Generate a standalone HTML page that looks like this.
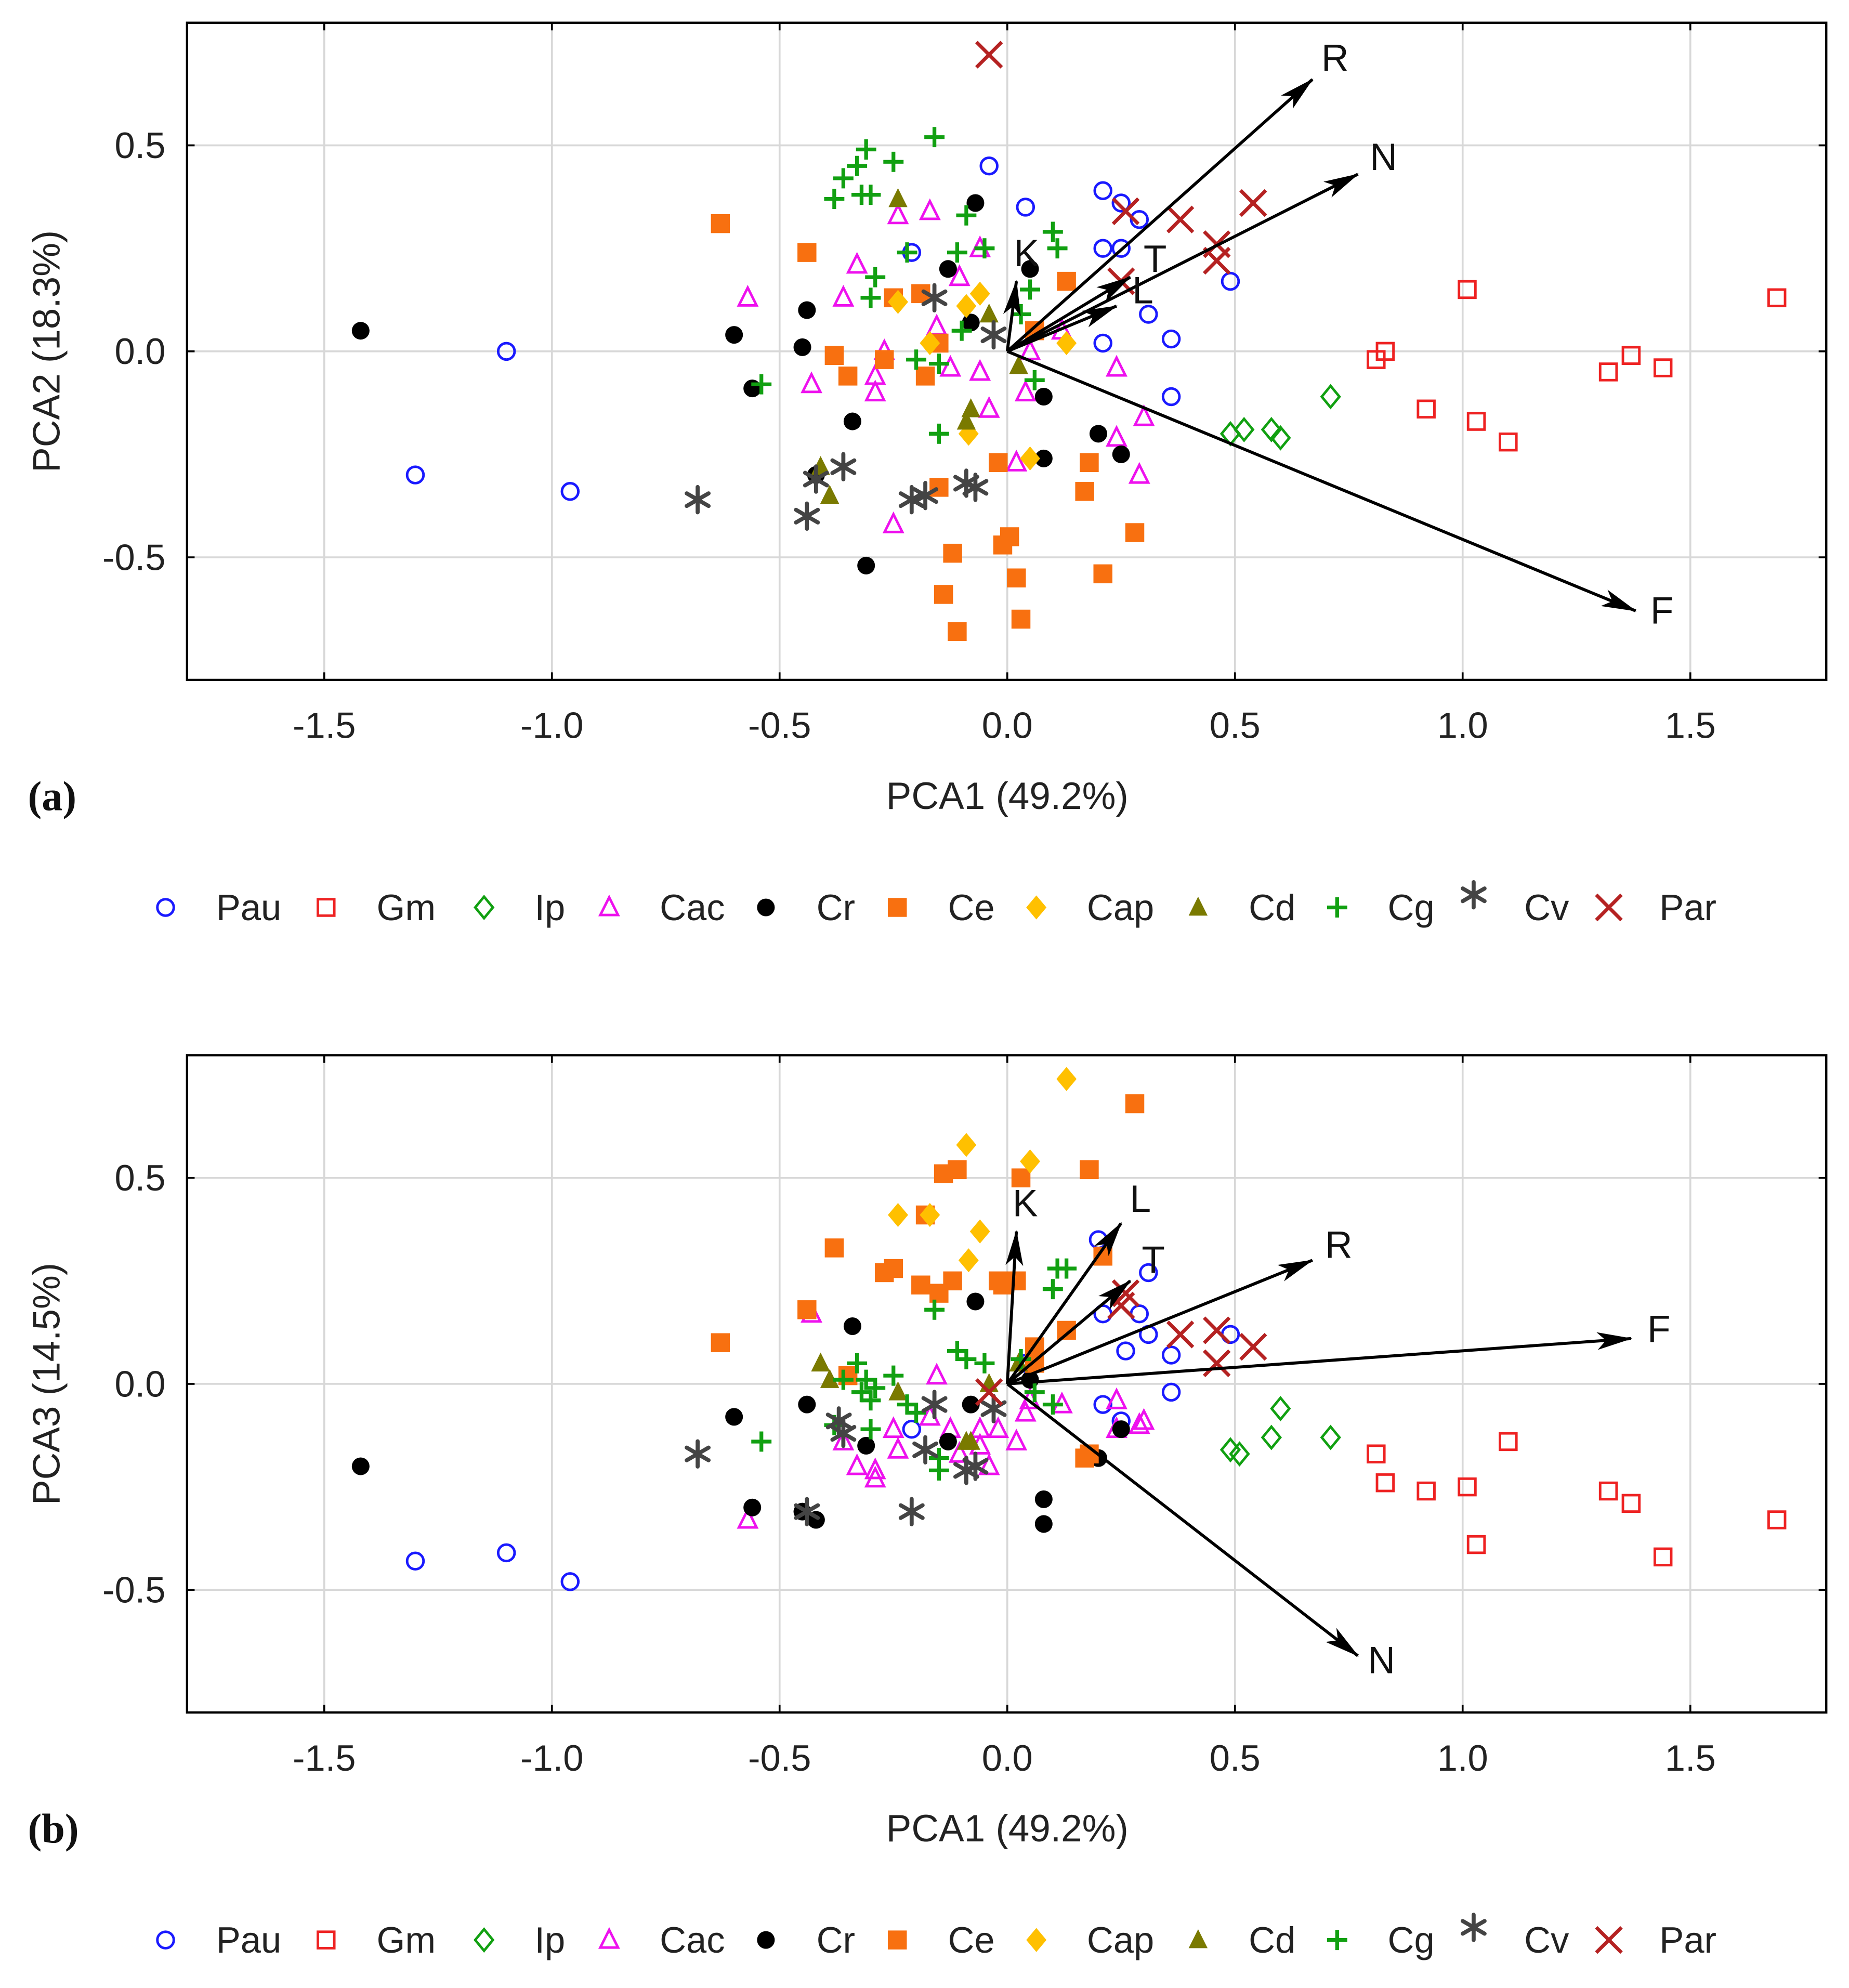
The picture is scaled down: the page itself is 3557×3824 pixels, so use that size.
<!DOCTYPE html>
<html><head><meta charset="utf-8"><style>
html,body{margin:0;padding:0;background:#fff;}
svg{display:block;}
text{font-family:"Liberation Sans","DejaVu Sans",sans-serif;}
</style></head><body>
<svg id="fig" width="3557" height="3824" viewBox="0 0 1463 1573" preserveAspectRatio="none" xmlns="http://www.w3.org/2000/svg">
<defs>
<marker id="ah" viewBox="0 0 28 14" refX="27" refY="7" markerWidth="28" markerHeight="14" markerUnits="userSpaceOnUse" orient="auto">
<path d="M0,0 L28,7 L0,14 L7,7 Z" fill="#000"/>
</marker>
</defs>
</svg>
<script>
const xTicks=[-1.5,-1.0,-0.5,0.0,0.5,1.0,1.5];
const yTicks=[0.5,0.0,-0.5];
const species=["Pau","Gm","Ip","Cac","Cr","Ce","Cap","Cd","Cg","Cv","Par"];
const loadingNames=["R","N","F","K","T","L"];
const loadA=[[0.67,0.66],[0.77,0.43],[1.38,-0.63],[0.02,0.17],[0.27,0.18],[0.24,0.11]];
const loadB=[[0.67,0.30],[0.77,-0.66],[1.37,0.11],[0.02,0.37],[0.27,0.25],[0.25,0.39]];
const pauA=[[-1.10,0.0],[-1.30,-0.30],[-0.96,-0.34],[-0.04,0.45],[0.04,0.35],[0.21,0.39],[0.25,0.36],[0.29,0.32],[0.21,0.25],[0.25,0.25],[-0.21,0.24],[0.31,0.09],[0.21,0.02],[0.36,0.03],[0.36,-0.11],[0.49,0.17]];
const gmA=[[1.69,0.13],[1.01,0.15],[0.83,0.0],[0.81,-0.02],[0.92,-0.14],[1.03,-0.17],[1.10,-0.22],[1.32,-0.05],[1.37,-0.01],[1.44,-0.04]];
const ipA=[[0.71,-0.11],[0.58,-0.19],[0.60,-0.21],[0.52,-0.19],[0.49,-0.20]];
const cacA=[[-0.57,0.13],[-0.43,-0.08],[-0.36,0.13],[-0.33,0.21],[-0.29,-0.06],[-0.29,-0.10],[-0.25,-0.42],[-0.27,0],[-0.24,0.33],[-0.17,0.34],[-0.155,0.06],[-0.125,-0.04],[-0.06,-0.05],[-0.04,-0.14],[-0.06,0.25],[0.02,-0.27],[0.04,-0.10],[0.05,0],[0.12,0.05],[0.24,-0.21],[0.24,-0.04],[0.30,-0.16],[0.29,-0.30],[-0.105,0.18]];
const crA=[[-1.42,0.05],[-0.60,0.04],[-0.56,-0.09],[-0.44,0.10],[-0.45,0.01],[-0.42,-0.30],[-0.34,-0.17],[-0.31,-0.52],[-0.13,0.20],[-0.07,0.36],[-0.08,0.07],[0.05,0.20],[0.08,-0.11],[0.08,-0.26],[0.20,-0.20],[0.25,-0.25]];
const ceA=[[-0.63,0.31],[-0.44,0.24],[-0.38,-0.01],[-0.35,-0.06],[-0.27,-0.02],[-0.25,0.13],[-0.19,0.14],[-0.18,-0.06],[-0.15,0.02],[-0.15,-0.33],[-0.12,-0.49],[-0.14,-0.59],[-0.11,-0.68],[-0.02,-0.27],[-0.01,-0.47],[0.005,-0.45],[0.02,-0.55],[0.03,-0.65],[0.06,0.05],[0.13,0.17],[0.18,-0.27],[0.17,-0.34],[0.21,-0.54],[0.28,-0.44]];
const capA=[[-0.24,0.12],[-0.17,0.02],[-0.09,0.11],[-0.06,0.14],[-0.085,-0.20],[0.05,-0.26],[0.13,0.02]];
const cdA=[[-0.41,-0.28],[-0.39,-0.35],[-0.24,0.37],[-0.09,-0.17],[-0.08,-0.14],[-0.04,0.09],[0.025,-0.035]];
const cgA=[[-0.54,-0.08],[-0.38,0.37],[-0.36,0.42],[-0.33,0.45],[-0.31,0.49],[-0.32,0.38],[-0.30,0.38],[-0.25,0.46],[-0.29,0.18],[-0.30,0.13],[-0.22,0.24],[-0.20,-0.02],[-0.15,-0.03],[-0.16,0.52],[-0.11,0.24],[-0.09,0.33],[-0.15,-0.20],[-0.05,0.25],[0.03,0.09],[0.06,-0.07],[0.10,0.29],[0.11,0.25],[0.05,0.15],[-0.10,0.05]];
const cvA=[[-0.68,-0.36],[-0.44,-0.40],[-0.42,-0.31],[-0.36,-0.28],[-0.16,0.13],[-0.21,-0.36],[-0.18,-0.35],[-0.09,-0.32],[-0.07,-0.33],[-0.03,0.04]];
const parA=[[-0.04,0.72],[0.26,0.34],[0.38,0.32],[0.54,0.36],[0.46,0.26],[0.46,0.22],[0.25,0.17]];
const pauB=[[-1.30,-0.43],[-1.10,-0.41],[-0.96,-0.48],[0.20,0.35],[0.21,0.31],[0.31,0.27],[0.21,0.17],[0.29,0.17],[0.31,0.12],[0.26,0.08],[0.36,0.07],[0.36,-0.02],[0.49,0.12],[0.21,-0.05],[0.25,-0.09],[-0.21,-0.11],[0.04,0.05]];
const gmB=[[1.69,-0.33],[0.81,-0.17],[0.83,-0.24],[0.92,-0.26],[1.01,-0.25],[1.03,-0.39],[1.10,-0.14],[1.32,-0.26],[1.37,-0.29],[1.44,-0.42]];
const ipB=[[0.60,-0.06],[0.58,-0.13],[0.71,-0.13],[0.49,-0.16],[0.51,-0.17]];
const cacB=[[-0.57,-0.33],[-0.43,0.17],[-0.36,-0.14],[-0.33,-0.20],[-0.29,-0.21],[-0.29,-0.23],[-0.25,-0.11],[-0.24,-0.16],[-0.17,-0.08],[-0.155,0.02],[-0.125,-0.11],[-0.06,-0.15],[-0.04,-0.20],[-0.06,-0.11],[0.02,-0.14],[0.04,-0.07],[0.05,-0.04],[0.12,-0.05],[0.24,-0.04],[0.24,-0.11],[0.30,-0.09],[0.29,-0.10],[-0.105,-0.17],[-0.02,-0.11]];
const crB=[[-1.42,-0.20],[-0.60,-0.08],[-0.56,-0.30],[-0.44,-0.05],[-0.45,-0.31],[-0.42,-0.33],[-0.34,0.14],[-0.31,-0.15],[-0.13,-0.14],[-0.07,0.20],[-0.08,-0.05],[0.05,0.01],[0.08,-0.34],[0.08,-0.28],[0.20,-0.18],[0.25,-0.11]];
const ceB=[[-0.63,0.10],[-0.44,0.18],[-0.38,0.33],[-0.35,0.02],[-0.27,0.27],[-0.25,0.28],[-0.19,0.24],[-0.18,0.41],[-0.15,0.22],[-0.14,0.51],[-0.11,0.52],[-0.12,0.25],[-0.02,0.25],[-0.01,0.24],[0.02,0.25],[0.03,0.50],[0.06,0.09],[0.13,0.13],[0.18,0.52],[0.17,-0.18],[0.21,0.31],[0.28,0.68],[0.06,0.05],[0.18,-0.17]];
const capB=[[0.13,0.74],[-0.24,0.41],[-0.17,0.41],[-0.09,0.58],[-0.06,0.37],[-0.085,0.30],[0.05,0.54]];
const cdB=[[-0.41,0.05],[-0.39,0.01],[-0.24,-0.02],[-0.09,-0.14],[-0.08,-0.14],[-0.04,0.0],[0.025,0.05]];
const cgB=[[-0.54,-0.14],[-0.38,-0.10],[-0.36,0.01],[-0.33,0.05],[-0.31,0.01],[-0.32,-0.02],[-0.30,-0.11],[-0.25,0.02],[-0.29,-0.01],[-0.30,-0.04],[-0.22,-0.05],[-0.20,-0.07],[-0.15,-0.21],[-0.16,0.18],[-0.11,0.08],[-0.09,0.06],[-0.15,-0.18],[-0.05,0.05],[0.03,0.06],[0.06,-0.02],[0.10,0.23],[0.11,0.28],[0.13,0.28],[0.10,-0.05]];
const cvB=[[-0.68,-0.17],[-0.44,-0.31],[-0.37,-0.09],[-0.36,-0.12],[-0.16,-0.05],[-0.21,-0.31],[-0.18,-0.16],[-0.09,-0.21],[-0.07,-0.20],[-0.03,-0.06]];
const parB=[[-0.04,-0.02],[0.26,0.22],[0.38,0.12],[0.54,0.09],[0.46,0.13],[0.46,0.05],[0.25,0.19]];

const NS="http://www.w3.org/2000/svg";
const svg=document.getElementById('fig');
const colors={Pau:"#1a1aff",Gm:"#ee2222",Ip:"#11a011",Cac:"#ee11ee",Cr:"#000",Ce:"#f87010",Cap:"#ffc000",Cd:"#7a7a00",Cg:"#11a011",Cv:"#444",Par:"#b52222"};
function el(tag,attrs,parent){const e=document.createElementNS(NS,tag);for(const k in attrs)e.setAttribute(k,attrs[k]);(parent||svg).appendChild(e);return e;}
function marker(sp,x,y,g){
 const c=colors[sp];let e;const r=6.5;
 if(sp==="Pau")e=el('circle',{cx:x,cy:y,r:r,fill:'none',stroke:c,'stroke-width':2},g);
 else if(sp==="Gm")e=el('rect',{x:x-r,y:y-r,width:2*r,height:2*r,fill:'none',stroke:c,'stroke-width':2},g);
 else if(sp==="Ip")e=el('polygon',{points:`${x},${y-8.5} ${x+7},${y} ${x},${y+8.5} ${x-7},${y}`,fill:'none',stroke:c,'stroke-width':2},g);
 else if(sp==="Cac")e=el('polygon',{points:`${x},${y-8} ${x+7},${y+6} ${x-7},${y+6}`,fill:'none',stroke:c,'stroke-width':2},g);
 else if(sp==="Cr")e=el('circle',{cx:x,cy:y,r:7,fill:c},g);
 else if(sp==="Ce")e=el('rect',{x:x-7.5,y:y-7.5,width:15,height:15,fill:c},g);
 else if(sp==="Cap")e=el('polygon',{points:`${x},${y-9.5} ${x+8},${y} ${x},${y+9.5} ${x-8},${y}`,fill:c},g);
 else if(sp==="Cd")e=el('polygon',{points:`${x},${y-8.5} ${x+7.5},${y+6.5} ${x-7.5},${y+6.5}`,fill:c},g);
 else if(sp==="Cg")e=el('path',{d:`M${x-8},${y}H${x+8}M${x},${y-8}V${y+8}`,stroke:c,'stroke-width':3,fill:'none'},g);
 else if(sp==="Cv"){let d='';for(let i=0;i<6;i++){const a=i*Math.PI/3-Math.PI/2;d+=`M${x},${y}L${(x+10*Math.cos(a)).toFixed(2)},${(y+10*Math.sin(a)).toFixed(2)}`;}
  e=el('path',{d:d,stroke:c,'stroke-width':3.2,'stroke-linecap':'round',fill:'none'},g);}
 else if(sp==="Par")e=el('path',{d:`M${x-10},${y-10}L${x+10},${y+10}M${x+10},${y-10}L${x-10},${y+10}`,stroke:c,'stroke-width':2.8,fill:'none'},g);
 return e;
}
const dataA={Pau:pauA,Gm:gmA,Ip:ipA,Cac:cacA,Cr:crA,Ce:ceA,Cap:capA,Cd:cdA,Cg:cgA,Cv:cvA,Par:parA};
const dataB={Pau:pauB,Gm:gmB,Ip:ipB,Cac:cacB,Cr:crB,Ce:ceB,Cap:capB,Cd:cdB,Cg:cgB,Cv:cvB,Par:parB};
function panel(top,ytitle,letter,data,load,id){
 const L=148,R=1445,T=top,B=top+520;
 const y0=top+260;
 const sx=v=>797+v*360.3;
 const sy=v=>y0-v*326;
 const g=el('g',{});
 
 
 xTicks.forEach(t=>{const l=el('line',{x1:sx(t),x2:sx(t),y1:T,y2:B,stroke:'#d8d8d8','stroke-width':1.5},g);
  
  });
 yTicks.forEach(t=>{const l=el('line',{x1:L,x2:R,y1:sy(t),y2:sy(t),stroke:'#d8d8d8','stroke-width':1.5},g);
  
  });
 const fr=el('rect',{x:L,y:T,width:R-L,height:B-T,fill:'none',stroke:'#000','stroke-width':1.8},g);
 
 
 xTicks.forEach(t=>{el('line',{x1:sx(t),x2:sx(t),y1:B,y2:B-6,stroke:'#000','stroke-width':1.5},g);el('line',{x1:sx(t),x2:sx(t),y1:T,y2:T+6,stroke:'#000','stroke-width':1.5},g);
  const tx=el('text',{x:sx(t),y:B+46,'font-size':29,'text-anchor':'middle',fill:'#222'},g);tx.textContent=t.toFixed(1);
  
  });
 yTicks.forEach(t=>{el('line',{x1:L,x2:L+6,y1:sy(t),y2:sy(t),stroke:'#000','stroke-width':1.5},g);el('line',{x1:R,x2:R-6,y1:sy(t),y2:sy(t),stroke:'#000','stroke-width':1.5},g);
  const tx=el('text',{x:L-17,y:sy(t)+10,'font-size':29,'text-anchor':'end',fill:'#222'},g);tx.textContent=t.toFixed(1);
  
  });
 species.forEach(sp=>{data[sp].forEach(p=>{const m=marker(sp,sx(p[0]),sy(p[1]),g);
  
  });});
 load.forEach((p,i)=>{const x2=sx(p[0]),y2=sy(p[1]);
  const a=el('line',{x1:sx(0),y1:sy(0),x2:x2,y2:y2,stroke:'#000','stroke-width':2.4,'marker-end':'url(#ah)'},g);
  
  
  const len=Math.hypot(x2-sx(0),y2-sy(0));const ux=(x2-sx(0))/len,uy=(y2-sy(0))/len;
  const lt=el('text',{x:x2+ux*16+6,y:y2+uy*16+4,'font-size':30,'text-anchor':'middle',fill:'#111'},g);lt.textContent=loadingNames[i];
  
  });
 const xt=el('text',{x:797,y:B+102,'font-size':30,'text-anchor':'middle',fill:'#222'},g);xt.textContent='PCA1 (49.2%)';
 
 
 const yt=el('text',{x:0,y:0,'font-size':30,'text-anchor':'middle',fill:'#222',transform:`translate(47,${y0}) rotate(-90)`},g);yt.textContent=ytitle;
 
 
 const lb=el('text',{x:22,y:B+103,'font-size':33,'font-weight':'bold',fill:'#111',style:'font-family:"Liberation Serif",serif'},g);lb.textContent=letter;
 
 
 const mx=[131,258,383,482,606,710,820,948,1058,1166,1273];
 const lg=el('g',{},g);
 
 
 const ly=B+180;
 species.forEach((sp,i)=>{const e=el('g',{},lg);
  
  
  marker(sp,mx[i],sp==="Cv"?ly-10:ly,e);
  const t=el('text',{x:mx[i]+40,y:ly+10,'font-size':29,fill:'#222'},e);t.textContent=sp;});
}
panel(18,'PCA2 (18.3%)','(a)',dataA,loadA,'a');
panel(835,'PCA3 (14.5%)','(b)',dataB,loadB,'b');
</script>
</body></html>
